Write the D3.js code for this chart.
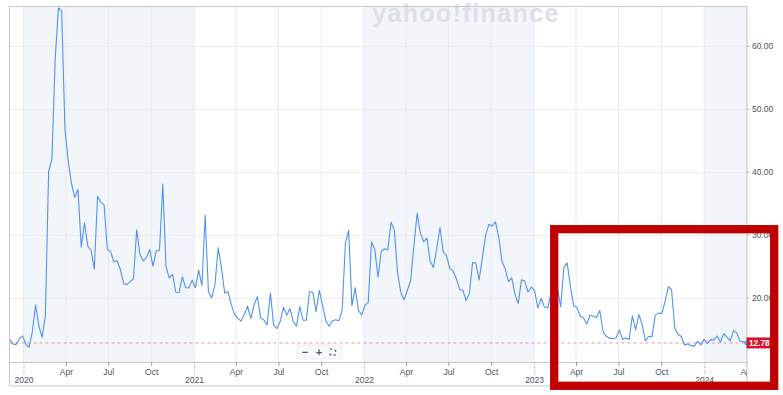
<!DOCTYPE html>
<html>
<head>
<meta charset="utf-8">
<script src="https://cdn.jsdelivr.net/npm/d3@7/dist/d3.min.js"></script>
<style>
  html, body { margin: 0; padding: 0; background: #fff; }
  svg { display: block; font-family: "Liberation Sans", Arial, Helvetica, sans-serif; }
</style>
</head>
<body>
<svg id="chart" width="783" height="395"></svg>
<script>
// ---- Data (weekly closes, week-start Mondays) ----
const firstWeek = "2019-12-02";
const lastWeek = "2024-04-01";
const values2019 = [13.4, 12.63, 12.51, 13.43, 13.9];
const values2020 = [12.56, 12.10, 14.56, 18.84, 15.47, 13.68, 17.08, 40.11, 41.94, 57.83,
  66.04, 65.54, 46.80, 41.67, 38.15, 35.93, 37.19, 27.98, 31.89, 28.16,
  27.51, 24.52, 36.09, 35.12, 34.73, 27.68, 27.29, 25.68, 25.84, 24.46,
  22.21, 22.05, 22.54, 22.96, 30.75, 26.87, 25.83, 26.38, 27.63, 25.00,
  27.41, 27.55, 38.02, 24.86, 23.10, 23.70, 20.84, 20.79, 23.31, 21.57,
  21.53, 22.75];
const values2021 = [21.56, 24.34, 21.91, 33.09, 20.87, 19.97, 22.05, 27.95, 24.66, 20.69,
  20.95, 18.86, 17.33, 16.69, 16.25, 17.33, 18.61, 16.69, 18.81, 20.15,
  16.76, 16.42, 15.65, 20.70, 15.62, 15.07, 16.18, 18.45, 17.20, 18.24,
  16.15, 15.45, 18.56, 16.39, 16.41, 20.95, 20.81, 17.75, 21.15, 18.77,
  16.30, 15.43, 16.26, 16.48, 16.29, 17.91, 28.62, 30.67, 18.69, 21.57,
  17.96, 17.22];
const values2022 = [18.76, 19.19, 28.85, 27.66, 23.22, 27.36, 27.75, 27.59, 31.98, 30.75,
  23.87, 20.81, 19.63, 21.16, 22.70, 28.21, 33.40, 30.19, 28.87, 29.43,
  25.72, 24.79, 27.75, 31.13, 27.23, 26.70, 24.64, 24.23, 23.03, 21.33,
  21.15, 19.53, 20.60, 25.56, 25.47, 22.79, 26.30, 29.92, 31.62, 31.36,
  32.02, 29.69, 25.75, 24.55, 22.52, 23.12, 20.50, 19.06, 22.83, 22.62,
  20.87, 21.67];
const values2023 = [21.13, 18.35, 19.85, 18.51, 18.33, 20.53, 20.02, 21.67, 18.49, 24.80,
  25.51, 21.74, 18.70, 18.40, 17.07, 16.77, 15.78, 17.19, 17.03, 16.81,
  17.95, 14.60, 13.83, 13.54, 13.44, 13.59, 14.83, 13.34, 13.60, 13.33,
  17.10, 14.84, 17.30, 15.68, 13.09, 13.84, 13.79, 17.20, 17.52, 17.45,
  19.32, 21.71, 21.27, 15.14, 14.17, 13.80, 12.46, 12.63, 12.35, 12.28,
  13.03, 12.45];
const values2024 = [13.35, 12.70, 13.30, 13.26, 13.85, 12.93, 14.24, 13.75, 13.11, 14.74,
  14.41, 13.06, 13.01, 12.78];
const lastPrice = 12.78;
const yTickValues = [20, 30, 40, 50, 60];
const monthNames = ["Jan","Feb","Mar","Apr","May","Jun","Jul","Aug","Sep","Oct","Nov","Dec"];
const shadedYears = [2020, 2022, 2024];
const watermarkText = "yahoo!finance";

// ---- Build series ----
const parse = d3.timeParse("%Y-%m-%d");
const weeks = d3.timeMonday.range(parse(firstWeek), d3.timeDay.offset(parse(lastWeek), 1));
const allValues = [].concat(values2019, values2020, values2021, values2022, values2023, values2024);
const data = weeks.map((d, i) => ({ date: d, value: allValues[i] }));

// ---- Layout ----
const L = 9.5, R = 747, T = 6.5, B = 362, OUTB = 386;
const svg = d3.select("#chart");

const x = d3.scaleTime()
  .domain([parse("2019-12-02"), parse("2024-04-02")])
  .range([L, R]);
const y = d3.scaleLinear().domain([9.75, 66.26]).range([B, T]);

const defs = svg.append("defs");
defs.append("clipPath").attr("id", "plotClip")
  .append("rect").attr("x", L).attr("y", T).attr("width", R - L).attr("height", B - T);
defs.append("clipPath").attr("id", "xClip")
  .append("rect").attr("x", 0).attr("y", 0).attr("width", R).attr("height", 40);

// shaded year bands
const plot = svg.append("g").attr("clip-path", "url(#plotClip)");
plot.selectAll("rect.band").data(shadedYears).join("rect")
  .attr("class", "band")
  .attr("x", d => x(new Date(d, 0, 1)))
  .attr("y", T)
  .attr("width", d => x(new Date(d + 1, 0, 1)) - x(new Date(d, 0, 1)))
  .attr("height", B - T)
  .attr("fill", "#f2f5f9");

// watermark
svg.append("text")
  .attr("x", 466).attr("y", 22)
  .attr("text-anchor", "middle")
  .attr("font-size", 25).attr("font-weight", "900")
  .attr("letter-spacing", 1.4)
  .attr("fill", "#dde0e6")
  .text(watermarkText);

// quarterly ticks
const qTicks = d3.timeMonth.every(3).range(new Date(2020, 0, 1), new Date(2024, 3, 2));

// vertical gridlines
plot.selectAll("line.vg").data(qTicks).join("line")
  .attr("x1", d => x(d)).attr("x2", d => x(d))
  .attr("y1", T).attr("y2", B)
  .attr("stroke", "#e6e9ed").attr("stroke-width", 1);

// horizontal gridlines
plot.selectAll("line.hg").data(yTickValues).join("line")
  .attr("x1", L).attr("x2", R)
  .attr("y1", d => Math.round(y(d)) + 0.5).attr("y2", d => Math.round(y(d)) + 0.5)
  .attr("stroke", "#ebedf0").attr("stroke-width", 1);

// last price dashed line
plot.append("line")
  .attr("x1", L).attr("x2", R)
  .attr("y1", y(lastPrice)).attr("y2", y(lastPrice))
  .attr("stroke", "#ec8f98").attr("stroke-width", 1)
  .attr("stroke-dasharray", "3,3");

// line
const line = d3.line().x(d => x(d.date)).y(d => y(d.value));
plot.append("path").datum(data)
  .attr("d", line)
  .attr("fill", "none")
  .attr("stroke", "#4f93f2")
  .attr("stroke-width", 1.1)
  .attr("stroke-linejoin", "round");

// end dot
const last = data[data.length - 1];
svg.append("circle")
  .attr("cx", x(last.date)).attr("cy", y(last.value)).attr("r", 2.3)
  .attr("fill", "#43a8f5");

// borders
svg.append("path")
  .attr("d", `M${R},${T}H${L}V${OUTB}H${R}V${T}`)
  .attr("fill", "none").attr("stroke", "#c5c9ce").attr("stroke-width", 1);
svg.append("line")
  .attr("x1", L).attr("x2", R).attr("y1", B + 0.5).attr("y2", B + 0.5)
  .attr("stroke", "#c5c9ce").attr("stroke-width", 1);

// y axis (right)
const yAxis = d3.axisRight(y).tickValues(yTickValues).tickFormat(d3.format(".2f")).tickSize(3).tickPadding(2);
const gy = svg.append("g").attr("transform", `translate(${R},0)`).call(yAxis);
gy.select(".domain").remove();
gy.selectAll("line").attr("stroke", "#b5bac0");
gy.selectAll("text").attr("font-size", 8.5).attr("fill", "#4b535c")
  .attr("font-family", "Liberation Sans, Arial, sans-serif");

// x axis
const xAxis = d3.axisBottom(x).tickValues(qTicks)
  .tickFormat(d => d.getMonth() === 0 ? "" : monthNames[d.getMonth()])
  .tickSize(4).tickPadding(3);
const gx = svg.append("g").attr("transform", `translate(0,${B})`).attr("clip-path", "url(#xClip)").call(xAxis);
gx.select(".domain").remove();
gx.selectAll("line").attr("stroke", "#9aa0a6");
gx.selectAll("text").attr("font-size", 8.5).attr("fill", "#4b535c")
  .attr("font-family", "Liberation Sans, Arial, sans-serif");
gx.selectAll(".tick").filter(d => d.getMonth() === 0).each(function(d) {
  const g = d3.select(this);
  g.select("line").attr("y2", 13).attr("stroke-dasharray", "1,1.5").attr("stroke", "#9aa0a6");
  g.append("text").attr("y", 21).attr("text-anchor", "middle")
    .attr("font-size", 8.5).attr("fill", "#4b535c")
    .attr("font-family", "Liberation Sans, Arial, sans-serif")
    .text(d.getFullYear());
});

// last price label
const lp = svg.append("g").attr("transform", `translate(${R - 0.5},${y(lastPrice)})`);
lp.append("rect").attr("x", 0).attr("y", -5.5).attr("width", 29).attr("height", 11).attr("fill", "#d9122c");
lp.append("text").attr("x", 2.5).attr("y", 0).attr("dy", "0.35em")
  .attr("font-size", 8.2).attr("font-weight", "bold").attr("fill", "#fff")
  .text(d3.format(".2f")(lastPrice));

// zoom controls
const zc = svg.append("g").attr("transform", "translate(297,345)");
zc.append("rect").attr("width", 45).attr("height", 14).attr("rx", 2)
  .attr("fill", "#f7f8f9").attr("stroke", "#eceef0");
zc.selectAll("text").data(["\u2212", "+", "\u26F6"]).join("text")
  .attr("x", (d, i) => 8 + i * 14).attr("y", 7).attr("dy", "0.35em")
  .attr("text-anchor", "middle").attr("font-size", (d, i) => i === 2 ? 8 : 11)
  .attr("font-weight", "bold").attr("fill", "#555b62")
  .text(d => d);

// red annotation box
svg.append("rect")
  .attr("x", 554.2).attr("y", 229.2).attr("width", 220).attr("height", 156.6)
  .attr("fill", "none").attr("stroke", "#c00000").attr("stroke-width", 8.3);
</script>
</body>
</html>
